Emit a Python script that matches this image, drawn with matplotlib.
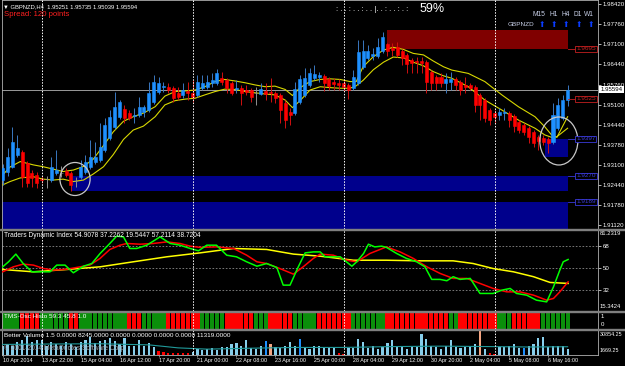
import matplotlib
matplotlib.use("Agg")
import matplotlib.pyplot as plt
from matplotlib.patches import Rectangle, Ellipse
from matplotlib.transforms import blended_transform_factory
import numpy as np

plt.rcParams['font.family'] = ['Liberation Sans', 'DejaVu Sans']

# ---- price data (H4 bars, GBPNZD) ----
opens = [
    1.9261, 1.9288, 1.9304, 1.9344, 1.9354, 1.9317, 1.9284, 1.9278, 1.9264, 1.9264,
    1.9261, 1.9284, 1.9284, 1.9291, 1.9284, 1.9258, 1.9271, 1.9288, 1.9304, 1.9321,
    1.9327, 1.9360, 1.9400, 1.9436, 1.9469, 1.9495, 1.9482, 1.9472, 1.9476, 1.9486,
    1.9492, 1.9519, 1.9552, 1.9568, 1.9568, 1.9565, 1.9548, 1.9542, 1.9555, 1.9548,
    1.9542, 1.9565, 1.9568, 1.9581, 1.9581, 1.9598, 1.9591, 1.9581, 1.9561, 1.9565,
    1.9558, 1.9558, 1.9548, 1.9545, 1.9555, 1.9552, 1.9548, 1.9542, 1.9515, 1.9486,
    1.9482, 1.9519, 1.9542, 1.9575, 1.9598, 1.9601, 1.9604, 1.9594, 1.9585, 1.9581,
    1.9581, 1.9575, 1.9565, 1.9581, 1.9634, 1.9664, 1.9670, 1.9670, 1.9687, 1.9710,
    1.9697, 1.9700, 1.9687, 1.9674, 1.9657, 1.9654, 1.9654, 1.9651, 1.9618, 1.9601,
    1.9601, 1.9581, 1.9585, 1.9594, 1.9585, 1.9575, 1.9575, 1.9568, 1.9542, 1.9525,
    1.9492, 1.9482, 1.9476, 1.9482, 1.9482, 1.9472, 1.9453, 1.9443, 1.9433, 1.9420,
    1.9403, 1.9400, 1.9396, 1.9386, 1.9433, 1.9466, 1.95251]
highs = [
    1.9314, 1.9367, 1.9436, 1.9410, 1.9360, 1.9324, 1.9294, 1.9288, 1.9274, 1.9274,
    1.9337, 1.9360, 1.9307, 1.9301, 1.9291, 1.9271, 1.9327, 1.9344, 1.9393, 1.9386,
    1.9449, 1.9466, 1.9492, 1.9552, 1.9525, 1.9509, 1.9492, 1.9499, 1.9535, 1.9509,
    1.9585, 1.9608, 1.9601, 1.9585, 1.9581, 1.9571, 1.9568, 1.9581, 1.9585, 1.9591,
    1.9608, 1.9608, 1.9608, 1.9614, 1.9628, 1.9618, 1.9598, 1.9588, 1.9591, 1.9575,
    1.9575, 1.9565, 1.9568, 1.9581, 1.9581, 1.9598, 1.9555, 1.9548, 1.9525, 1.9499,
    1.9585, 1.9608, 1.9631, 1.9631, 1.9641, 1.9618, 1.9611, 1.9601, 1.9598, 1.9594,
    1.9591, 1.9581, 1.9624, 1.9723, 1.9723, 1.9707, 1.9697, 1.9730, 1.9750, 1.9713,
    1.9713, 1.9717, 1.9693, 1.9680, 1.9664, 1.9667, 1.9667, 1.9657, 1.9624, 1.9608,
    1.9614, 1.9614, 1.9618, 1.9601, 1.9591, 1.9601, 1.9581, 1.9575, 1.9548, 1.9532,
    1.9499, 1.9492, 1.9499, 1.9499, 1.9489, 1.9479, 1.9459, 1.9449, 1.9439, 1.9426,
    1.9410, 1.9410, 1.9403, 1.9515, 1.9532, 1.9542, 1.95735]
lows = [
    1.9245, 1.9274, 1.9301, 1.9337, 1.9238, 1.9238, 1.9238, 1.9235, 1.9251, 1.9235,
    1.9255, 1.9278, 1.9271, 1.9271, 1.9225, 1.9238, 1.9264, 1.9281, 1.9297, 1.9314,
    1.9321, 1.9354, 1.9393, 1.9429, 1.9462, 1.9449, 1.9459, 1.9449, 1.9469, 1.9469,
    1.9486, 1.9512, 1.9545, 1.9552, 1.9548, 1.9519, 1.9525, 1.9532, 1.9525, 1.9519,
    1.9535, 1.9558, 1.9561, 1.9568, 1.9575, 1.9575, 1.9548, 1.9542, 1.9548, 1.9509,
    1.9542, 1.9519, 1.9509, 1.9542, 1.9525, 1.9519, 1.9515, 1.9449, 1.9433, 1.9443,
    1.9476, 1.9512, 1.9535, 1.9568, 1.9591, 1.9585, 1.9555, 1.9558, 1.9558, 1.9558,
    1.9555, 1.9528, 1.9558, 1.9575, 1.9628, 1.9657, 1.9657, 1.9664, 1.9680, 1.9670,
    1.9670, 1.9667, 1.9641, 1.9614, 1.9614, 1.9614, 1.9614, 1.9548, 1.9558, 1.9558,
    1.9568, 1.9548, 1.9558, 1.9558, 1.9542, 1.9548, 1.9558, 1.9486, 1.9459, 1.9453,
    1.9443, 1.9449, 1.9459, 1.9459, 1.9436, 1.9420, 1.9416, 1.9410, 1.9383, 1.9370,
    1.9360, 1.9377, 1.9350, 1.9380, 1.9426, 1.9459, 1.95039]
closes = [
    1.9301, 1.9337, 1.9386, 1.9367, 1.9271, 1.9251, 1.9268, 1.9251, 1.9261, 1.9264,
    1.9304, 1.9294, 1.9284, 1.9278, 1.9245, 1.9258, 1.9304, 1.9321, 1.9337, 1.9337,
    1.9370, 1.9443, 1.9469, 1.9502, 1.9519, 1.9466, 1.9466, 1.9476, 1.9502, 1.9502,
    1.9548, 1.9585, 1.9581, 1.9571, 1.9558, 1.9532, 1.9535, 1.9558, 1.9548, 1.9535,
    1.9585, 1.9581, 1.9585, 1.9591, 1.9614, 1.9585, 1.9565, 1.9548, 1.9565, 1.9548,
    1.9552, 1.9535, 1.9548, 1.9561, 1.9545, 1.9548, 1.9532, 1.9492, 1.9459, 1.9476,
    1.9561, 1.9594, 1.9598, 1.9614, 1.9611, 1.9608, 1.9581, 1.9571, 1.9578, 1.9575,
    1.9568, 1.9558, 1.9601, 1.9684, 1.9687, 1.9687, 1.9677, 1.9700, 1.9733, 1.9687,
    1.9690, 1.9674, 1.9664, 1.9644, 1.9647, 1.9651, 1.9647, 1.9585, 1.9581, 1.9581,
    1.9581, 1.9594, 1.9594, 1.9575, 1.9558, 1.9568, 1.9565, 1.9509, 1.9509, 1.9466,
    1.9459, 1.9469, 1.9486, 1.9486, 1.9459, 1.9439, 1.9426, 1.9420, 1.9403, 1.9383,
    1.9390, 1.9386, 1.9383, 1.9476, 1.9509, 1.9525, 1.95594]
last_price = 1.95594

# moving-average envelope (yellow lines), read at sample bars
ma_x = [0, 1.5, 3.6, 6.3, 8.3, 10.4, 12.4, 14.5, 16.6, 18.6, 20.7, 22.7, 24.8, 26.8,
        28.9, 31.3, 33.3, 35.4, 37.4, 39.5, 41.5, 43.6, 45.6, 47.7, 49.8, 51.8, 53.9,
        55.9, 58.0, 59.5, 61.0, 63.1, 65.2, 67.2, 69.3, 71.3, 72.6, 74.0, 76.1, 78.2,
        80.2, 82.3, 84.3, 86.4, 88.4, 90.5, 92.2, 95.6, 99.0, 102.5, 105.9, 109.3,
        111.3, 112.7, 113.8, 116.0]
ma_upper = [1.9278, 1.9304, 1.9322, 1.9311, 1.9305, 1.9297, 1.9289, 1.9294, 1.9306, 1.9330,
            1.9375, 1.9420, 1.9455, 1.9470, 1.9482, 1.9503, 1.9538, 1.9553, 1.9555, 1.9558,
            1.9569, 1.9586, 1.9593, 1.9588, 1.9582, 1.9575, 1.9569, 1.9571, 1.9560, 1.9540,
            1.9565, 1.9586, 1.9593, 1.9595, 1.9593, 1.9586, 1.9586, 1.9635, 1.9668, 1.9690,
            1.9699, 1.9692, 1.9679, 1.9674, 1.9654, 1.9635, 1.9624, 1.9613, 1.9586, 1.9542,
            1.9503, 1.9470, 1.9437, 1.9410, 1.9402, 1.9470]
ma_lower = [1.9245, 1.9256, 1.9268, 1.9272, 1.9264, 1.9261, 1.9264, 1.9256, 1.9261, 1.9281,
            1.9305, 1.9345, 1.9395, 1.9426, 1.9439, 1.9470, 1.9509, 1.9523, 1.9528, 1.9531,
            1.9542, 1.9553, 1.9561, 1.9560, 1.9553, 1.9549, 1.9545, 1.9542, 1.9525, 1.9500,
            1.9522, 1.9558, 1.9569, 1.9566, 1.9564, 1.9564, 1.9572, 1.9590, 1.9625, 1.9650,
            1.9667, 1.9664, 1.9650, 1.9638, 1.9619, 1.9605, 1.9597, 1.9569, 1.9525, 1.9492,
            1.9459, 1.9432, 1.9410, 1.9402, 1.9404, 1.9432]

# supply / demand zones
zone_x0 = [79.0, 14.3, -0.3, 111.3]
zone_x1 = [116.1, 116.1, 116.1, 116.1]
zone_lo = [1.96935, 1.92249, 1.9080, 1.93371]
zone_hi = [1.97562, 1.92744, 1.91886, 1.93965]
zone_col = ['#800000', '#00008C', '#00008C', '#00008C']
zone_lbl_price = [1.96935, 1.95285, 1.93965, 1.92744, 1.91886]
zone_lbl_text = ['1.9695', '1.9525', '1.9397', '1.9270', '1.9189']
zone_lbl_col = ['#C42020', '#C42020', '#3A3AD8', '#3A3AD8', '#3A3AD8']

# circles drawn on the chart
ell_cx = [14.85, 114.2]
ell_cy = [1.92645, 1.93899]
ell_w = [6.2, 7.8]
ell_h = [0.01089, 0.01584]

price_ticks = [1.98420, 1.97760, 1.97100, 1.96440, 1.95760, 1.95100,
               1.94440, 1.93780, 1.93100, 1.92440, 1.91780, 1.91120]

# Traders Dynamic Index
green_x = [0, 1.2, 2.7, 4.2, 6.0, 9.7, 11.1, 12.8, 14.5, 16.6, 18.3, 20.0, 22.0, 23.4,
           24.8, 26.1, 27.5, 29.6, 32.3, 34.4, 36.4, 38.5, 40.2, 41.9, 43.9, 46.0, 48.0,
           50.1, 52.2, 54.2, 56.3, 57.6, 59.0, 60.7, 62.1, 63.8, 65.2, 66.2, 67.9, 69.3,
           71.7, 72.7, 74.1, 75.1, 76.4, 77.8, 78.8, 80.9, 82.9, 85.0, 86.7, 88.1, 89.8,
           91.2, 92.5, 93.9, 96.0, 98.0, 100.7, 102.5, 104.2, 105.5, 107.6, 109.6, 111.7,
           113.1, 114.4, 115.1, 116.1]
green_v = [51.1, 55.2, 61.5, 53.8, 47.0, 47.0, 52.5, 52.5, 46.2, 51.6, 53.8, 62.0, 70.2,
           76.2, 75.6, 66.1, 66.1, 68.8, 75.6, 70.2, 68.8, 66.1, 64.2, 68.8, 68.8, 60.6,
           59.3, 55.2, 51.6, 53.8, 50.5, 36.1, 36.1, 51.1, 62.5, 63.3, 63.3, 59.3, 59.3,
           59.3, 51.6, 55.2, 62.0, 69.6, 67.4, 68.0, 67.0, 62.0, 58.0, 55.2, 51.1, 40.8,
           40.8, 39.7, 43.0, 40.8, 41.6, 29.3, 29.3, 32.0, 33.4, 29.3, 27.9, 23.8, 22.4,
           34.7, 48.4, 55.2, 57.1]
red_x = [0, 2.2, 4.2, 6.3, 8.4, 10.4, 13.1, 15.9, 17.9, 20.0, 22.0, 24.1, 25.5, 28.2,
         30.9, 33.7, 36.4, 38.5, 40.5, 43.9, 47.4, 50.1, 52.2, 54.2, 56.9, 59.7, 61.7,
         63.8, 65.2, 67.9, 70.6, 72.7, 75.4, 78.8, 81.6, 84.3, 87.1, 89.8, 92.5, 95.3,
         98.0, 100.7, 103.5, 106.2, 109.0, 111.7, 113.1, 114.4, 116.1]
red_v = [47.0, 51.1, 53.3, 52.5, 49.7, 48.4, 49.1, 51.1, 52.5, 58.0, 65.3, 68.8, 70.2,
         69.6, 70.2, 71.5, 70.2, 68.0, 67.0, 67.4, 66.1, 60.6, 55.2, 53.8, 49.7, 45.1,
         51.1, 58.0, 61.5, 60.6, 56.5, 55.2, 62.0, 67.4, 63.3, 58.0, 51.1, 45.7, 41.6,
         41.6, 37.5, 33.4, 30.6, 30.6, 27.9, 23.8, 25.2, 30.6, 38.8]
yellow_x = [0, 6.3, 13.1, 20.0, 26.8, 33.7, 40.5, 47.4, 54.2, 59.7, 65.2, 72.0, 78.8,
            85.7, 92.5, 96.6, 100.7, 104.9, 109.0, 112.4, 116.1]
yellow_v = [48.9, 47.0, 48.9, 51.1, 55.2, 59.3, 62.5, 66.1, 65.3, 61.5, 59.8, 56.5, 56.5,
            56.0, 56.0, 53.8, 49.7, 47.0, 43.0, 38.3, 37.5]
tdi_levels = [68, 50, 32]

# TMS-Osc histogram: runs of (colour state, number of bars)
tms_runs = [('G', 4), ('R', 4), ('G', 6), ('R', 2), ('G', 10), ('R', 3), ('G', 5),
            ('R', 7), ('G', 5), ('R', 6), ('G', 3), ('R', 5), ('G', 5), ('R', 7),
            ('G', 7), ('R', 13), ('G', 2), ('R', 8), ('G', 3), ('R', 6), ('G', 6)]

# Better Volume
volumes = [
    12534, 14759, 12534, 16984, 19079, 24315, 16984, 19079, 19600, 12534,
    16984, 14759, 12534, 16984, 14759, 11225, 16984, 19079, 22613, 15675,
    17770, 19079, 21304, 17770, 14759, 22000, 12534, 12534, 19079, 12534,
    15675, 10439, 5989, 5000, 3894, 4500, 3894, 3500, 3894, 5000,
    8214, 7000, 8214, 9523, 7000, 10439, 10439, 14759, 15675, 12534,
    19079, 9523, 8214, 12534, 18293, 14759, 10439, 9523, 12534, 16984,
    12534, 19995, 10439, 8214, 12534, 12534, 10439, 10439, 9523, 3894,
    2585, 9523, 9523, 19995, 16984, 9523, 12534, 8214, 11225, 15675,
    19079, 10439, 12534, 8214, 11225, 11225, 25624, 19995, 12534, 11225,
    8214, 12534, 19079, 10439, 9523, 10439, 12534, 14759, 30074, 8214,
    3894, 2585, 10439, 10439, 12534, 14759, 9523, 9523, 12534, 14759,
    21304, 22613, 10439, 12534, 12534, 12534, 8245]
# n = normal, l = low, c = climax, h = high
vol_kind = ("nnnnnnnnnn" "nnnnnnnnnn" "nnnnnnnnnn" "nnllllllln" "nnnnnnnnnn"
            "nnnnhcnnnn" "nhnnnnnnnl" "lnnnnnnnnn" "nnnnnnnnnn" "nnnnnnnncn"
            "llnnnnnhnn" "nnnnnnn")
vol_ma_x = [0, 10, 20, 30, 36, 42, 50, 60, 70, 80, 90, 100, 108, 116]
vol_ma = [14000, 14500, 14800, 13500, 10000, 8500, 9500, 10500, 10500, 11500, 12000,
          11500, 11000, 11319]

date_idx = [0, 8, 16, 24, 32, 40, 48, 56, 64, 72, 80, 88, 96, 104, 112]
date_lbl = ['10 Apr 2014', '13 Apr 22:00', '15 Apr 04:00', '16 Apr 12:00', '17 Apr 20:00',
            '21 Apr 00:00', '22 Apr 08:00', '23 Apr 16:00', '25 Apr 00:00', '28 Apr 04:00',
            '29 Apr 12:00', '30 Apr 20:00', '2 May 04:00', '5 May 08:00', '6 May 16:00']
sep_idx = [8, 39, 70, 101]

# ---- layout helpers (pixel positions of the MT4 windows) ----
W, H = 625, 366
XL = (-0.144, 122.24)


def rect(x0, y0, x1, y1):
    return [x0 / W, 1 - y1 / H, (x1 - x0) / W, (y1 - y0) / H]


def pt(x, y):
    return x / W, 1 - y / H


def style(ax):
    ax.set_facecolor('black')
    ax.set_xlim(*XL)
    for s in ax.spines.values():
        s.set_color('#B0B0B0')
        s.set_linewidth(0.6)
    ax.tick_params(axis='x', bottom=False, labelbottom=False)
    ax.yaxis.tick_right()
    ax.tick_params(axis='y', colors='white', labelsize=4.4, length=2, width=0.5, pad=1.2)
    for s in sep_idx:
        ax.axvline(s, color='white', lw=0.7, ls=(0, (1.5, 1.5)), zorder=5)


fig = plt.figure(figsize=(6.25, 3.66), dpi=100, facecolor='black')
ax = fig.add_axes(rect(2, 0, 598, 228.5))
ax_tdi = fig.add_axes(rect(2, 230, 598, 310.5))
ax_tms = fig.add_axes(rect(2, 312, 598, 328.5))
ax_vol = fig.add_axes(rect(2, 330, 598, 355))
for a in (ax, ax_tdi, ax_tms, ax_vol):
    style(a)

# window splitters
for y0 in (228.5, 310.5, 328.5):
    fig.patches.append(Rectangle(pt(0, y0 + 1.5), 1, 1.5 / H, transform=fig.transFigure,
                                 color='#7F7F7F', zorder=10))

# ---- main price window ----
ax.set_ylim(1.91011, 1.98552)
ax.set_yticks(price_ticks)
ax.set_yticklabels([f"{v:.5f}" for v in price_ticks])

for x0, x1, lo, hi, col in zip(zone_x0, zone_x1, zone_lo, zone_hi, zone_col):
    ax.add_patch(Rectangle((x0, lo), x1 - x0, hi - lo, color=col, lw=0, zorder=1))

ax.axhline(last_price, color='#9A9A9A', lw=0.7, zorder=2)
ax.plot(ma_x, ma_upper, color='#D8D800', lw=0.8, zorder=3)
ax.plot(ma_x, ma_lower, color='#D8D800', lw=0.8, zorder=3)

o, h, l, c = map(np.array, (opens, highs, lows, closes))
x = np.arange(len(o))
body_col = np.where(c > o, '#1E90FF', np.where(c < o, '#FF0000', '#909090'))
wick_col = np.where(c > o, '#3A78C0', np.where(c < o, '#D01010', '#909090'))
ax.vlines(x, l, h, colors=wick_col, lw=0.7, zorder=4)
ax.bar(x, np.abs(c - o), bottom=np.minimum(o, c), width=0.62, color=body_col,
       edgecolor=body_col, lw=0.4, zorder=4.5)

for cx, cy, ew, eh in zip(ell_cx, ell_cy, ell_w, ell_h):
    ax.add_patch(Ellipse((cx, cy), ew, eh, fill=False, ec='#C8C8C8', lw=0.9,
                         zorder=6, clip_on=False))

for p, t, col in zip(zone_lbl_price, zone_lbl_text, zone_lbl_col):
    ax.plot([116.1, 117.6], [p, p], color=col, lw=0.6, zorder=6, clip_on=False)
    ax.text(117.75, p, t, color=col, fontsize=4.6, va='center', ha='left', zorder=7,
            bbox=dict(boxstyle='square,pad=0.15', fc='black', ec=col, lw=0.6))

tr = blended_transform_factory(ax.transAxes, ax.transData)
ax.text(1.004, last_price, f"{last_price:.5f}", transform=tr, color='black', fontsize=4.4,
        va='center', ha='left', clip_on=False, zorder=8,
        bbox=dict(boxstyle='square,pad=0.2', fc='white', ec='white', lw=0))

# header texts
fig.text(*pt(3, 6.5), "\u25bc GBPNZD,H4  1.95251 1.95735 1.95039 1.95594", color='white',
         fontsize=4.2, va='center', ha='left')
fig.text(*pt(4, 14.5), "Spread: 120 points", color='#FF2020', fontsize=5.6,
         va='center', ha='left')
fig.text(*pt(336, 9.5), ": . . : . . : . . |. . : . . : . :", color='white', fontsize=5.6,
         va='center', ha='left')
fig.text(*pt(420, 9), "59%", color='white', fontsize=9, va='center', ha='left')
for tx, tf, ar in zip([538.7, 553.3, 566.2, 577.7, 588.8], ['M15', 'H1', 'H4', 'D1', 'W1'],
                      [542, 554, 566.3, 578.8, 591]):
    fig.text(*pt(tx, 15), tf, color='#C8D0E8', fontsize=4.8, va='center', ha='center')
    fig.text(*pt(ar, 24.5), "\u2b06", color='#0A3CFF', fontsize=5.5, va='center',
             ha='center', family='DejaVu Sans')
fig.text(*pt(521, 24.5), "GBPNZD", color='#C8D0E8', fontsize=4.6, va='center', ha='center')

# ---- Traders Dynamic Index ----
ax_tdi.set_ylim(15.3424, 81.2319)
for lv in tdi_levels:
    ax_tdi.axhline(lv, color='#8A8A8A', lw=0.6, ls=(0, (2, 2)), zorder=1)
ax_tdi.plot(yellow_x, yellow_v, color='#FFFF00', lw=1.1, zorder=3)
ax_tdi.plot(red_x, red_v, color='#FF0000', lw=1.1, zorder=3)
ax_tdi.plot(green_x, green_v, color='#00FF00', lw=1.1, zorder=4)
ax_tdi.set_yticks(tdi_levels)
ax_tdi.set_yticklabels([str(v) for v in tdi_levels])
fig.text(*pt(600, 233.5), "81.2319", color='white', fontsize=4.2, va='center', ha='left')
fig.text(*pt(600, 307), "15.3424", color='white', fontsize=4.2, va='center', ha='left')
fig.text(*pt(4, 235.5), "Traders Dynamic Index 54.9078 37.2262 19.5447 57.2114 38.7204",
         color='white', fontsize=4.8, va='center', ha='left')

# ---- TMS-Osc histogram ----
tms_state = [s for s, n in tms_runs for _ in range(n)]
tms_col = ['#0B8F0B' if s == 'G' else '#FF0000' for s in tms_state]
ax_tms.set_ylim(0, 1)
ax_tms.bar(np.arange(len(tms_state)), 1, width=0.86, color=tms_col, lw=0, zorder=2)
ax_tms.set_yticks([])
fig.text(*pt(601, 316.5), "1", color='white', fontsize=4.4, va='center', ha='left')
fig.text(*pt(601, 325), "0", color='white', fontsize=4.4, va='center', ha='left')
fig.text(*pt(4, 316.5), "TMS-Osc Histo 59.3 45.8 1.0", color='white', fontsize=4.6,
         va='center', ha='left', zorder=20)

# ---- Better Volume ----
kind_col = {'n': '#87CEEB', 'l': '#FF0000', 'c': '#F4A582', 'h': '#1E90FF'}
ax_vol.set_ylim(1669.25, 30854.25)
ax_vol.bar(np.arange(len(volumes)), volumes, width=0.45,
           color=[kind_col[k] for k in vol_kind], lw=0, zorder=2)
ax_vol.plot(vol_ma_x, vol_ma, color='#209A9A', lw=0.8, zorder=3)
ax_vol.set_yticks([])
fig.text(*pt(599.5, 334), "30854.25", color='white', fontsize=3.9, va='center', ha='left')
fig.text(*pt(599.5, 351), "1669.25", color='white', fontsize=3.9, va='center', ha='left')
fig.text(*pt(4, 335.5),
         "Better Volume 1.5 0.0000 8245.0000 0.0000 0.0000 0.0000 0.0000 11319.0000",
         color='white', fontsize=4.6, va='center', ha='left')
fig.text(*pt(4, 348), "\u00a9 2001-2014 MetaQuotes Software Corp.", color='#A0A8B0',
         fontsize=4.8, va='center', ha='left')

ax_vol.set_xticks(date_idx)
ax_vol.set_xticklabels(date_lbl, ha='left')
ax_vol.tick_params(axis='x', bottom=True, labelbottom=True, length=1.5, width=0.5,
                   color='#B0B0B0', labelcolor='white', labelsize=3.9, pad=1.0)

fig.savefig('out.png', dpi=100, facecolor='black')
